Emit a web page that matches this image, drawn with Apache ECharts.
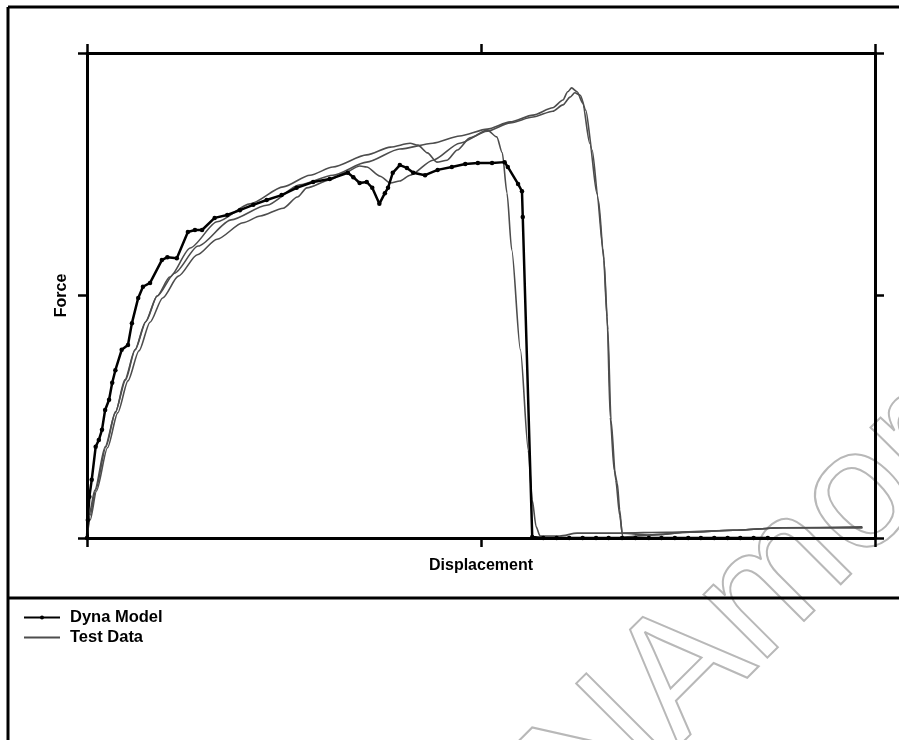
<!DOCTYPE html>
<html>
<head>
<meta charset="utf-8">
<title>Force - Displacement</title>
<script src="https://cdn.jsdelivr.net/npm/echarts@6/dist/echarts.min.js"></script>
<style>
  html, body { margin: 0; padding: 0; background: #fff; }
  #chart { width: 899px; height: 740px; }
</style>
</head>
<body>
<div id="chart"></div>
<script>
// Axis ticks (no labels shown in the picture)
const xTicks = [0, 50, 100]
const yTicks = [0, 50, 100]

// Dyna Model curve [displacement, force]
const dynaModel = [
  [0, 0], [0.1, 3.7], [0.3, 8.5], [0.6, 12.0], [1.1, 18.8], [1.5, 20.2], [1.9, 22.3],
  [2.3, 26.4], [2.8, 28.5], [3.2, 32.0], [3.6, 34.6], [4.4, 38.8], [5.2, 39.8],
  [5.7, 44.3], [6.5, 49.5], [7.1, 51.8], [8.0, 52.6], [9.5, 57.3], [10.2, 57.9],
  [11.4, 57.7], [12.8, 63.1], [13.7, 63.5], [14.6, 63.5], [16.2, 66.0], [17.8, 66.6],
  [19.4, 67.6], [21.1, 68.7], [22.8, 69.7], [24.7, 70.7], [26.6, 72.2], [28.7, 73.4],
  [30.8, 74.0], [33.1, 75.3], [33.8, 74.4], [34.6, 73.2], [35.5, 73.4], [36.2, 72.2],
  [37.1, 68.9], [37.8, 71.1], [38.2, 72.2], [38.8, 75.3], [39.7, 76.9], [40.6, 76.3],
  [41.4, 75.3], [42.9, 74.8], [44.5, 75.9], [46.3, 76.5], [48.0, 77.1], [49.6, 77.3],
  [51.4, 77.3], [53.0, 77.5], [53.4, 76.5], [54.7, 73.0], [55.2, 71.5], [55.3, 66.2],
  [56.5, 0.2], [57.9, 0], [59.6, 0], [61.2, 0], [62.9, 0], [64.6, 0], [66.2, 0],
  [67.9, 0], [69.6, 0], [71.3, 0], [72.9, 0], [74.6, 0], [76.3, 0], [77.9, 0],
  [79.6, 0], [81.3, 0], [82.9, 0], [84.6, 0], [86.4, 0]
]

// Test Data curves
const test1 = [
  [0, 0.2], [0.25, 4.7], [1.0, 9.9], [2.3, 18.8], [3.6, 25.8], [4.8, 32.6], [6.1, 38.8],
  [7.4, 44.5], [8.9, 49.9], [10.5, 53.8], [13.1, 59.8], [16.5, 65.2], [20.7, 68.9],
  [24.9, 72.4], [28.3, 74.8], [31.2, 76.5], [35.5, 79.0], [38.5, 80.6], [41.0, 81.4],
  [42.0, 81.0], [43.2, 79.4], [44.4, 77.5], [45.7, 77.9], [47.0, 80.0], [48.6, 82.5],
  [50.8, 84.1], [52.0, 82.7], [52.7, 79.4], [53.3, 71.1], [53.9, 59.4], [55.0, 38.8],
  [56.0, 18.1], [56.5, 7.8], [57.0, 2.3], [57.5, 0.4], [60.0, 0.4], [62.2, 1.0],
  [67.6, 1.0], [73.6, 1.2], [82.0, 1.6], [88.3, 2.1], [98.4, 2.3]
]
const test2 = [
  [0, 0.2], [0.4, 4.7], [1.1, 9.9], [2.4, 18.8], [3.6, 26.0], [4.9, 32.6], [6.1, 38.8],
  [7.5, 44.7], [8.9, 49.9], [11.1, 54.6], [14.1, 60.2], [18.3, 65.6], [22.8, 68.6],
  [27.0, 72.8], [31.2, 74.8], [35.5, 77.5], [39.7, 80.2], [43.9, 81.4], [47.3, 82.9],
  [50.8, 84.3], [53.7, 85.8], [56.6, 87.2], [59.1, 88.7], [60.4, 90.3], [61.0, 92.0],
  [61.5, 92.8], [62.2, 92.0], [62.9, 89.7], [63.8, 81.4], [64.7, 71.1], [65.5, 59.4],
  [66.0, 45.6], [66.4, 24.9], [66.9, 14.0], [67.3, 11.3], [67.6, 5.8], [67.9, 1.0],
  [71.4, 0.6], [76.5, 1.2], [82.0, 1.6], [88.3, 2.1], [98.4, 2.1]
]
const test3 = [
  [0, 0.2], [0.4, 3.7], [1.2, 9.7], [2.6, 18.6], [3.9, 25.8], [5.2, 32.4], [6.6, 38.6],
  [8.0, 44.5], [9.6, 49.5], [11.6, 54.0], [14.0, 58.4], [16.5, 61.6], [19.8, 65.0],
  [22.0, 66.4], [24.9, 68.0], [26.7, 70.3], [27.9, 72.2], [30.8, 73.8], [32.7, 75.3],
  [34.6, 76.7], [35.5, 76.5], [37.2, 74.6], [38.5, 73.2], [39.7, 73.6], [41.0, 74.8],
  [43.9, 77.9], [47.3, 81.4], [50.8, 83.9], [53.7, 85.6], [56.6, 86.8], [59.1, 88.0],
  [60.4, 89.3], [61.3, 90.9], [61.9, 91.8], [62.6, 91.3], [63.3, 88.2], [64.1, 80.0],
  [64.9, 69.7], [65.6, 57.3], [66.1, 42.9], [66.5, 24.3], [67.1, 11.9], [67.6, 4.7],
  [68.0, 0.2], [71.4, 0.6], [76.5, 1.2], [82.0, 1.6], [88.3, 2.1], [98.4, 2.1]
]
const testCurves = [test1, test2, test3]

const chart = echarts.init(document.getElementById('chart'))

const font = 'Liberation Sans, Arial, sans-serif'
const frameLine = { stroke: '#000', lineWidth: 3 }

const axisBase = (extra) => Object.assign({
  type: 'value',
  min: xTicks[0],
  max: xTicks[2],
  interval: xTicks[1] - xTicks[0],
  axisLine: { show: true, onZero: false, lineStyle: { color: '#000', width: 3 } },
  axisTick: { show: true, inside: false, length: 9, lineStyle: { color: '#000', width: 2.5 } },
  axisLabel: { show: false },
  splitLine: { show: false }
}, extra)

const nameStyle = { fontFamily: font, fontSize: 16, fontWeight: 'bold', color: '#000' }

const testSeries = testCurves.map(d => ({
  name: 'Test Data',
  type: 'line',
  data: d,
  symbol: 'none',
  smooth: 0.25,
  smoothMonotone: 'x',
  lineStyle: { color: '#4d4d4d', width: 1.6 },
  itemStyle: { color: '#4d4d4d' },
  z: 2
}))

const option = {
  animation: false,
  backgroundColor: '#fff',
  grid: { left: 87, right: 24, top: 53, bottom: 202 },
  xAxis: [
    axisBase({ position: 'bottom', name: 'Displacement', nameLocation: 'middle', nameGap: 20, nameTextStyle: nameStyle }),
    axisBase({ position: 'top' })
  ],
  yAxis: [
    axisBase({ position: 'left', min: yTicks[0], max: yTicks[2], interval: yTicks[1] - yTicks[0],
      name: 'Force', nameLocation: 'middle', nameGap: 17, nameTextStyle: nameStyle }),
    axisBase({ position: 'right', min: yTicks[0], max: yTicks[2], interval: yTicks[1] - yTicks[0] })
  ],
  legend: {
    orient: 'vertical',
    left: 23,
    top: 609,
    padding: 0,
    itemWidth: 36,
    itemHeight: 5,
    itemGap: 3,
    selectedMode: false,
    data: [
      { name: 'Dyna Model' },
      { name: 'Test Data', itemStyle: { opacity: 0 } }
    ],
    textStyle: { fontFamily: font, fontSize: 16.5, fontWeight: 'bold', color: '#000', padding: [0, 0, 0, 5] }
  },
  graphic: [
    // watermark
    {
      type: 'text',
      x: 452, y: 1027,
      rotation: Math.PI / 4,
      silent: true,
      z: -10,
      style: {
        text: 'DYNAmore',
        font: '170px Liberation Sans, Arial, sans-serif',
        fill: 'none',
        stroke: '#b8b8b8',
        lineWidth: 2,
        textAlign: 'left',
        textVerticalAlign: 'bottom'
      }
    },
    // frame
    { type: 'line', shape: { x1: 8, y1: 7, x2: 899, y2: 7 }, style: frameLine },
    { type: 'line', shape: { x1: 8, y1: 7, x2: 8, y2: 740 }, style: frameLine },
    { type: 'line', shape: { x1: 8, y1: 598, x2: 899, y2: 598 }, style: frameLine }
  ],
  series: testSeries.concat([{
    name: 'Dyna Model',
    type: 'line',
    data: dynaModel,
    symbol: 'circle',
    symbolSize: 4.5,
    showSymbol: true,
    lineStyle: { color: '#000', width: 2.5 },
    itemStyle: { color: '#000' },
    z: 3
  }])
}

chart.setOption(option)
</script>
</body>
</html>
